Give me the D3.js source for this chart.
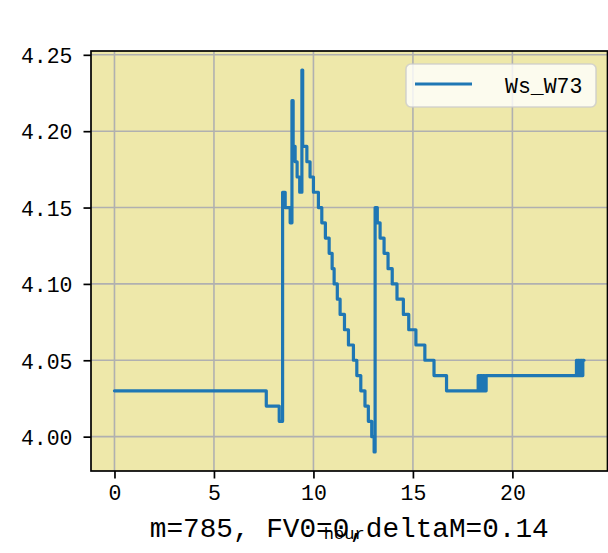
<!DOCTYPE html>
<html>
<head>
<meta charset="utf-8">
<script src="https://cdn.jsdelivr.net/npm/d3@7/dist/d3.min.js"></script>
<style>
  html, body { margin: 0; padding: 0; background: #ffffff; }
  svg { display: block; }
  text { font-family: "Liberation Mono", "DejaVu Sans Mono", monospace; fill: #000; }
</style>
</head>
<body>
<svg id="chart" width="608" height="553"></svg>
<script>
// ---- data (hour, value) change points, drawn as a step-after line ----
const hours = [
  0.00, 7.63, 8.28, 8.45, 8.58, 8.83, 8.92, 8.98, 9.08, 9.18, 9.31, 9.42, 9.46,
  9.67, 9.83, 10.00, 10.25, 10.42, 10.60, 10.79, 10.94, 11.04, 11.20, 11.34, 11.56,
  11.76, 12.01, 12.18, 12.38, 12.59, 12.76, 12.93, 13.05, 13.10, 13.21, 13.35, 13.55,
  13.75, 13.96, 14.20, 14.52, 14.79, 15.15, 15.60, 16.06, 16.69,
  18.28, 18.32, 18.36, 18.40, 18.44, 18.48, 18.52, 18.56, 18.60, 18.64, 18.68,
  23.22, 23.26, 23.30, 23.34, 23.38, 23.42, 23.46, 23.50, 23.54, 23.60
];
const values = [
  4.03, 4.02, 4.01, 4.16, 4.15, 4.14, 4.22, 4.19, 4.18, 4.17, 4.16, 4.24, 4.19,
  4.18, 4.17, 4.16, 4.15, 4.14, 4.13, 4.12, 4.11, 4.10, 4.09, 4.08, 4.07,
  4.06, 4.05, 4.04, 4.03, 4.02, 4.01, 4.00, 3.99, 4.15, 4.14, 4.13, 4.12,
  4.11, 4.10, 4.09, 4.08, 4.07, 4.06, 4.05, 4.04, 4.03,
  4.04, 4.03, 4.04, 4.03, 4.04, 4.03, 4.04, 4.03, 4.04, 4.03, 4.04,
  4.05, 4.04, 4.05, 4.04, 4.05, 4.04, 4.05, 4.04, 4.05, 4.05
];
const seriesName = "Ws_W73";
const xTicks = [0, 5, 10, 15, 20];
const yTicks = [4.00, 4.05, 4.10, 4.15, 4.20, 4.25];
const xLabel = "hour";
const footerText = "m=785, FV0=0,deltaM=0.14";

// ---- layout ----
const svg = d3.select("#chart");
const plot = { left: 91, right: 607.5, top: 51, bottom: 471 };

const xExt = d3.extent(hours), yExt = d3.extent(values);
const xPad = (xExt[1] - xExt[0]) * 0.05, yPad = (yExt[1] - yExt[0]) * 0.05;
const x = d3.scaleLinear().domain([xExt[0] - xPad, xExt[1] + xPad]).range([plot.left, plot.right]);
const y = d3.scaleLinear().domain([yExt[0] - yPad, yExt[1] + yPad]).range([plot.bottom, plot.top]);

// background
svg.append("rect")
  .attr("x", plot.left).attr("y", plot.top)
  .attr("width", plot.right - plot.left).attr("height", plot.bottom - plot.top)
  .attr("fill", "#eee8aa");

// grid
const grid = svg.append("g");
grid.selectAll("line.gx").data(xTicks).join("line")
  .attr("x1", d => x(d)).attr("x2", d => x(d))
  .attr("y1", plot.top).attr("y2", plot.bottom)
  .attr("stroke", "#b0b0b0").attr("stroke-width", 1.6);
grid.selectAll("line.gy").data(yTicks).join("line")
  .attr("y1", d => y(d)).attr("y2", d => y(d))
  .attr("x1", plot.left).attr("x2", plot.right)
  .attr("stroke", "#b0b0b0").attr("stroke-width", 1.6);

// line
const pts = hours.map((h, i) => [h, values[i]]);
svg.append("clipPath").attr("id", "clip").append("rect")
  .attr("x", plot.left).attr("y", plot.top)
  .attr("width", plot.right - plot.left).attr("height", plot.bottom - plot.top);
svg.append("path")
  .datum(pts)
  .attr("clip-path", "url(#clip)")
  .attr("fill", "none")
  .attr("stroke", "#1f77b4")
  .attr("stroke-width", 3.2)
  .attr("stroke-linejoin", "round")
  .attr("stroke-linecap", "round")
  .attr("d", d3.line().x(d => x(d[0])).y(d => y(d[1])).curve(d3.curveStepAfter));

// axes
const xAxis = d3.axisBottom(x).tickValues(xTicks).tickFormat(d3.format("d")).tickSize(7.5).tickPadding(6);
const yAxis = d3.axisLeft(y).tickValues(yTicks).tickFormat(d3.format(".2f")).tickSize(7.5).tickPadding(11);

const gx = svg.append("g").attr("transform", `translate(0,${plot.bottom})`).call(xAxis);
const gy = svg.append("g").attr("transform", `translate(${plot.left},0)`).call(yAxis);
[gx, gy].forEach(g => {
  g.select(".domain").remove();
  g.selectAll(".tick line").attr("stroke", "#000").attr("stroke-width", 1.7);
  g.selectAll(".tick text").attr("font-family", '"Liberation Mono", monospace')
    .attr("font-size", 21.5).attr("fill", "#000");
});
gx.selectAll(".tick text").attr("dy", "0.71em");
gy.selectAll(".tick text").attr("dy", "0.36em");

// spines
svg.append("rect")
  .attr("x", plot.left).attr("y", plot.top)
  .attr("width", plot.right - plot.left).attr("height", plot.bottom - plot.top)
  .attr("fill", "none").attr("stroke", "#000").attr("stroke-width", 1.7);

// legend
const lg = svg.append("g");
lg.append("rect")
  .attr("x", 406).attr("y", 64).attr("width", 190).attr("height", 43).attr("rx", 5)
  .attr("fill", "#ffffff").attr("fill-opacity", 0.8)
  .attr("stroke", "#cccccc").attr("stroke-opacity", 0.8).attr("stroke-width", 1.6);
lg.append("line")
  .attr("x1", 415).attr("x2", 472).attr("y1", 84).attr("y2", 84)
  .attr("stroke", "#1f77b4").attr("stroke-width", 3.2);
lg.append("text")
  .attr("x", 505).attr("y", 92.5)
  .attr("font-size", 21.5)
  .text(seriesName);

// footer text and x label (they overlap in the reference)
const cx = (plot.left + plot.right) / 2;
svg.append("text")
  .attr("x", cx).attr("y", 536.5)
  .attr("text-anchor", "middle")
  .attr("font-size", 27.7)
  .text(footerText);
svg.append("text")
  .attr("x", cx - 5).attr("y", 539)
  .attr("text-anchor", "middle")
  .attr("font-size", 17)
  .text(xLabel);
</script>
</body>
</html>
